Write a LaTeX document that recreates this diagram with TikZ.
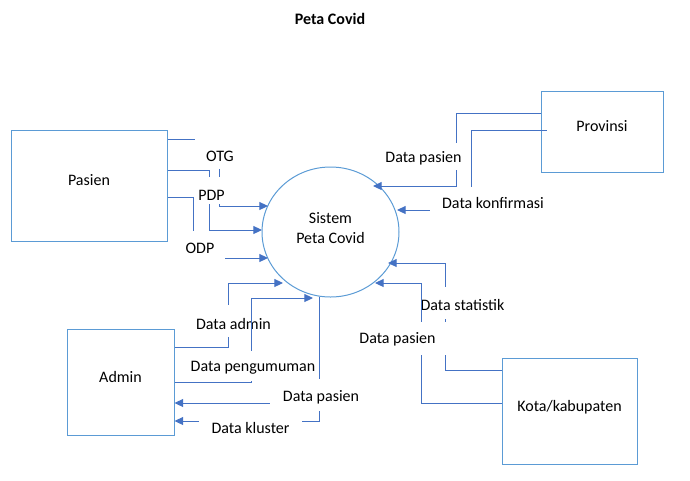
\documentclass[tikz,border=0pt]{standalone}
\usepackage{fontspec}
\setmainfont{Carlito}
\usetikzlibrary{arrows.meta,shapes.geometric}
\definecolor{lineblue}{HTML}{4472C4}
\definecolor{boxblue}{HTML}{5B9BD5}
\begin{document}
\begin{tikzpicture}[x=0.75pt,y=-0.75pt,
  conn/.style={draw=lineblue,line width=0.75pt},
  arr/.style={conn,-{Triangle[length=6.5pt,width=6pt]}},
  entity/.style={draw=boxblue,line width=0.75pt,rectangle,inner sep=0pt,
    text height=0pt,text depth=0pt,font=\fontsize{12}{14}\selectfont},
  lbl/.style={fill=white,inner sep=0pt,anchor=base,font=\fontsize{12}{14}\selectfont},
  txt/.style={inner sep=0pt,anchor=base,font=\fontsize{12}{14}\selectfont},
]
\useasboundingbox (0,0) rectangle (690,480);

% title
\node[txt,font=\fontsize{12}{14}\selectfont\bfseries] (title) at (330,24) {Peta Covid};

% entities
\node[entity,minimum width=117pt,minimum height=83.25pt] (pasien) at (89,185.5) {Pasien};
\node[entity,minimum width=91.5pt,minimum height=60.75pt] (prov) at (602,131.5) {Provinsi};
\node[entity,minimum width=80.25pt,minimum height=79.5pt] (admin) at (120.5,382) {Admin};
\node[entity,minimum width=101.25pt,minimum height=79.5pt] (kota) at (569.5,411) {Kota/kabupaten};

% process
\node[draw=boxblue,line width=0.75pt,ellipse,inner sep=0pt,
  minimum width=102.75pt,minimum height=97.5pt] (sys) at (330.5,232) {};
\node[txt] (sysA) at (330.5,223) {Sistem};
\node[txt] (sysB) at (330.5,243) {Peta Covid};

% points on the process border
\coordinate (sOTG) at (268,206);
\coordinate (sPDP) at (262,230);
\coordinate (sODP) at (268,258);
\coordinate (sProvP) at (373,186);
\coordinate (sKonf) at (397,210);
\coordinate (sAdm) at (283,283);
\coordinate (sPeng) at (313,298);
\coordinate (sBot) at (319,297);
\coordinate (sStat) at (388,263);
\coordinate (sKotaP) at (375,283);

% Pasien -> Sistem
\draw[arr] (pasien.east |- 0,139) -| (219,206) -- (sOTG);
\node[lbl,text height=17.25pt,text depth=6pt,minimum width=37.5pt] (lOTG) at (220,161) {OTG};
\draw[arr] (pasien.east |- 0,170) -| (209,230) -- (sPDP);
\node[lbl,text height=17.25pt,text depth=3pt,minimum width=25.5pt] (lPDP) at (211.5,200) {PDP};
\draw[arr] (pasien.east |- 0,197) -| (193,258) -- (sODP);
\node[lbl,text height=16.5pt,text depth=6.75pt,minimum width=37.5pt] (lODP) at (200,253) {ODP};

% Provinsi -> Sistem
\draw[arr] (prov.west |- 0,113) -| (456,186) -- (sProvP);
\node[lbl,text height=14.25pt,text depth=6pt,minimum width=64.5pt] (lProvP) at (423.5,162) {Data pasien};
\draw[arr] ([xshift=4.5pt]prov.west |- 0,130) -| (471,210) -- (sKonf);
\node[lbl,text height=15.75pt,text depth=4.5pt,minimum width=94.5pt] (lKonf) at (493,208) {Data konfirmasi};

% Admin <-> Sistem
\draw[arr] (admin.east |- 0,347) -| (228,283) -- (sAdm);
\node[lbl,text height=18pt,text depth=6pt,minimum width=63pt] (lAdm) at (233.5,329) {Data admin};
\draw[arr] (admin.east |- 0,382) -| (251,298) -- (sPeng);
\node[lbl,text height=15pt,text depth=7.5pt,minimum width=96pt] (lPeng) at (253,371) {Data pengumuman};
\draw[arr] (sBot) |- (admin.east |- 0,403);
\draw[arr] (sBot) |- (admin.east |- 0,421);
\node[lbl,text height=16.5pt,text depth=7.5pt,minimum width=76.5pt] (lAdmP) at (321,401) {Data pasien};
\node[lbl,text height=15pt,text depth=5.25pt,minimum width=77.25pt] (lKlus) at (250.5,433) {Data kluster};

% Kota/kabupaten -> Sistem
\draw[arr] (kota.west |- 0,370) -| (445,263) -- (sStat);
\node[lbl,text height=17.25pt,text depth=6.75pt,minimum width=72pt] (lStat) at (462.5,310) {Data statistik};
\draw[arr] (kota.west |- 0,403) -| (421,283) -- (sKotaP);
\node[lbl,text height=15.75pt,text depth=9pt,minimum width=78.75pt] (lKotaP) at (397.5,343) {Data pasien};
\end{tikzpicture}
\end{document}
